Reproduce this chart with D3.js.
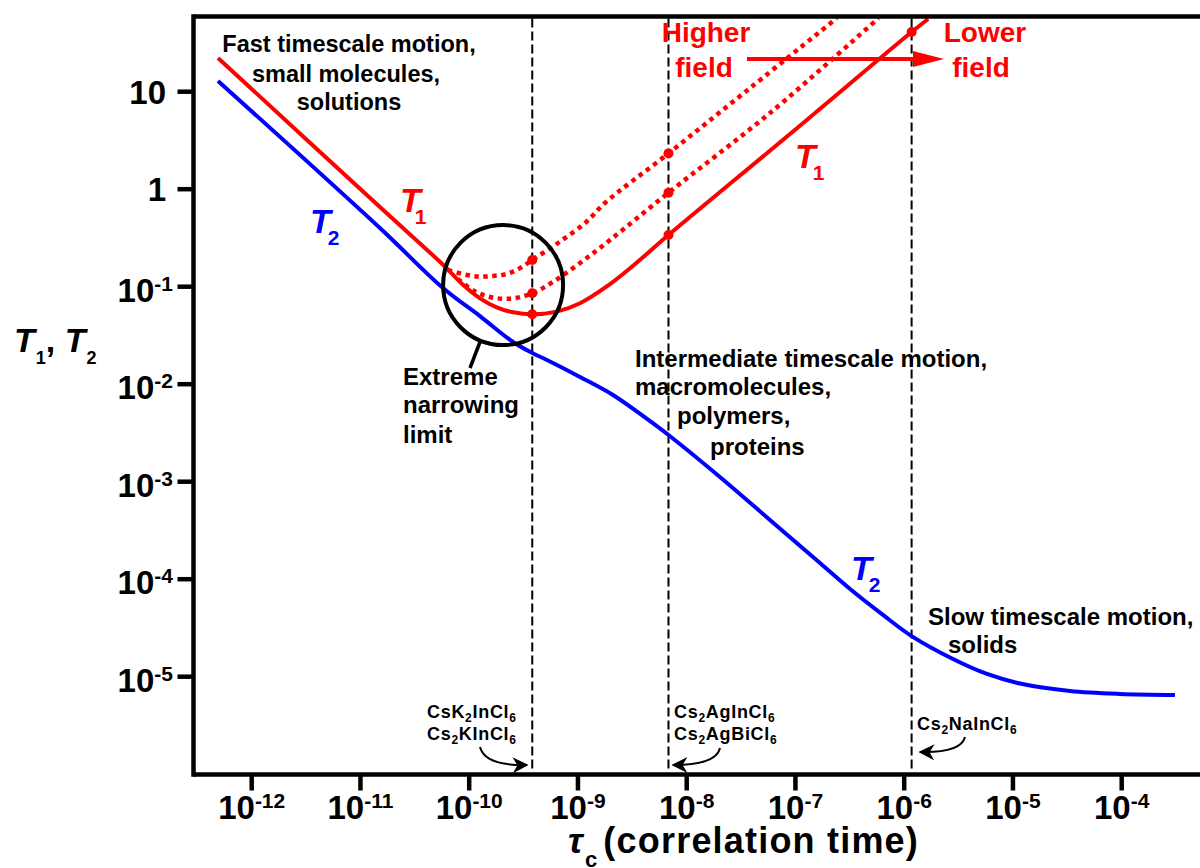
<!DOCTYPE html>
<html>
<head>
<meta charset="utf-8">
<script src="https://cdn.jsdelivr.net/npm/d3@7"></script>
<style>
  html, body { margin: 0; padding: 0; background: #fff; }
  svg { display: block; }
  text { font-family: "Liberation Sans", Arial, Helvetica, sans-serif; font-weight: bold; }
</style>
</head>
<body>
<svg id="chart" width="1200" height="868"></svg>
<script>
// ---- Relaxation curves: correlation time tau_c (s) vs relaxation time (s) ----

// T1, lower field (solid red)
const t1LowTau = [4.90e-13, 1.51e-11, 5.78e-11, 8.83e-11, 1.256e-10, 1.79e-10, 2.54e-10, 3.8e-10,
                  6.38e-10, 1.045e-9, 1.84e-9, 3.23e-9, 6.8e-9, 8.91e-8, 1.17e-6, 1.66e-6];
const t1LowVal = [22.2, 0.656, 0.167, 0.104, 0.0760, 0.0615, 0.0546, 0.0521,
                  0.0555, 0.0676, 0.1005, 0.165, 0.339, 3.68, 40.9, 55.7];

// T1, intermediate field (dotted red)
const t1MidTau = [7.88e-11, 1.09e-10, 1.55e-10, 2.37e-10, 3.8e-10, 5.93e-10, 1.045e-9, 1.97e-9,
                  6.8e-9, 5.83e-8, 5.78e-7];
const t1MidVal = [0.120, 0.0914, 0.0784, 0.0753, 0.0855, 0.1125, 0.175, 0.301,
                  0.920, 6.05, 56.6];

// T1, higher field (dotted red)
const t1HighTau = [6.38e-11, 9.48e-11, 1.256e-10, 1.667e-10, 2.21e-10, 2.93e-10, 3.8e-10, 6.84e-10,
                   1.20e-9, 1.77e-9, 6.8e-9, 3.82e-8, 2.39e-7];
const t1HighVal = [0.148, 0.132, 0.127, 0.129, 0.135, 0.155, 0.188, 0.290,
                   0.464, 0.722, 2.33, 10.9, 56.6];

// T2 (solid blue)
const t2Tau = [4.90e-13, 1.51e-11, 5.74e-11, 1.256e-10, 2.53e-10, 3.8e-10, 5.19e-10, 1.045e-9,
               2.10e-9, 4.32e-9, 6.8e-9, 2.02e-8, 5.83e-8, 1.68e-7, 3.18e-7, 6.38e-7,
               1.17e-6, 2.81e-6, 5.77e-6, 1.16e-5, 3.35e-5, 9.64e-5, 3.09e-4];
const t2Val = [12.9, 0.400, 0.0970, 0.0500, 0.0271, 0.0209, 0.0177, 0.01186,
               0.00775, 0.00440, 0.00301, 0.001117, 4.05e-4, 1.466e-4, 7.93e-5, 4.30e-5,
               2.61e-5, 1.52e-5, 1.067e-5, 8.51e-6, 7.13e-6, 6.65e-6, 6.49e-6];

// correlation times of the marked compounds (dashed guides)
const markerTau = [3.8e-10, 6.8e-9, 1.17e-6];

// axis ticks
const xTickExp = [-12, -11, -10, -9, -8, -7, -6, -5, -4];
const yTickValues = [10, 1, 1e-1, 1e-2, 1e-3, 1e-4, 1e-5];
const yTickBase = ["10", "1", "10", "10", "10", "10", "10"];
const yTickExp = ["", "", "-1", "-2", "-3", "-4", "-5"];

// ---- layout ----
const svg = d3.select("#chart");
const RED = "#ff0000", BLUE = "#0000ff";
const frame = { left: 193.5, top: 16.5, bottom: 774.5, right: 1200 };

const x = d3.scaleLog().domain([1e-12, 1e-4]).range([251.7, 1121.7]);
const y = d3.scaleLog().domain([10, 1e-5]).range([91.7, 676.7]);

const toPts = (taus, vals) => taus.map((t, i) => [t, vals[i]]);
const line = d3.line().x(d => x(d[0])).y(d => y(d[1])).curve(d3.curveCatmullRom.alpha(0.5));

// rich text helper: parts = [[text, "n"|"sub"|"sup", {dx, style, size}], ...]
function rich(parent, px, py, parts, o) {
  const t = parent.append("text").attr("x", px).attr("y", py)
    .attr("font-size", o.size).attr("fill", o.fill || "#000")
    .attr("text-anchor", o.anchor || "start");
  if (o.weight) t.attr("font-weight", o.weight);
  if (o.style) t.attr("font-style", o.style);
  if (o.spacing) t.attr("letter-spacing", o.spacing);
  let shift = 0;
  parts.forEach(([s, kind, extra]) => {
    const e = extra || {};
    const target = kind === "sub" ? o.subShift : kind === "sup" ? -o.supShift : 0;
    const sp = t.append("tspan").attr("dy", target - shift).text(s);
    if (kind !== "n") sp.attr("font-size", o.smallSize);
    if (e.size) sp.attr("font-size", e.size);
    if (e.dx) sp.attr("dx", e.dx);
    if (e.style) sp.attr("font-style", e.style);
    shift = target;
  });
  return t;
}

// ---- dashed guides at the compounds' correlation times ----
svg.append("g").selectAll("line").data(markerTau).join("line")
  .attr("x1", d => x(d)).attr("x2", d => x(d))
  .attr("y1", frame.top + 2).attr("y2", frame.bottom - 2)
  .attr("stroke", "#000").attr("stroke-width", 2).attr("stroke-dasharray", "9,4");

// ---- curves ----
const curves = svg.append("g").attr("fill", "none");
curves.append("path").attr("d", line(toPts(t2Tau, t2Val)))
  .attr("stroke", BLUE).attr("stroke-width", 4);
curves.append("path").attr("d", line(toPts(t1HighTau, t1HighVal)))
  .attr("stroke", RED).attr("stroke-width", 4.5).attr("stroke-dasharray", "4.5,4.5");
curves.append("path").attr("d", line(toPts(t1MidTau, t1MidVal)))
  .attr("stroke", RED).attr("stroke-width", 4.5).attr("stroke-dasharray", "4.5,4.5");
curves.append("path").attr("d", line(toPts(t1LowTau, t1LowVal)))
  .attr("stroke", RED).attr("stroke-width", 4);

// dots where the T1 curves meet the guides
const dotPts = [];
[[t1LowTau, t1LowVal], [t1MidTau, t1MidVal], [t1HighTau, t1HighVal]].forEach(([ts, vs]) => {
  ts.forEach((t, i) => { if (markerTau.includes(t)) dotPts.push([t, vs[i]]); });
});
svg.append("g").selectAll("circle").data(dotPts).join("circle")
  .attr("cx", d => x(d[0])).attr("cy", d => y(d[1])).attr("r", 5).attr("fill", RED);

// ---- extreme narrowing circle ----
const narrowCenter = [2.05e-10, 0.104];
svg.append("circle").attr("cx", x(narrowCenter[0])).attr("cy", y(narrowCenter[1])).attr("r", 60)
  .attr("fill", "none").attr("stroke", "#000").attr("stroke-width", 4);
svg.append("line").attr("x1", 480).attr("y1", 342).attr("x2", 470).attr("y2", 368)
  .attr("stroke", "#000").attr("stroke-width", 3.5);

// ---- frame and axes ----
const axes = svg.append("g").attr("stroke", "#000").attr("stroke-width", 4.5);
axes.append("line").attr("x1", frame.left).attr("x2", frame.left).attr("y1", frame.top - 2.25).attr("y2", frame.bottom + 2.25);
axes.append("line").attr("x1", frame.left).attr("x2", frame.right).attr("y1", frame.top).attr("y2", frame.top);
axes.append("line").attr("x1", frame.left).attr("x2", frame.right).attr("y1", frame.bottom).attr("y2", frame.bottom);

const xTicks = xTickExp.map(e => Math.pow(10, e));
axes.selectAll(".xt").data(xTicks).join("line").attr("class", "xt")
  .attr("x1", d => x(d)).attr("x2", d => x(d)).attr("y1", frame.bottom).attr("y2", frame.bottom + 16);
axes.selectAll(".yt").data(yTickValues).join("line").attr("class", "yt")
  .attr("y1", d => y(d)).attr("y2", d => y(d)).attr("x1", frame.left - 16).attr("x2", frame.left);

const tickOpts = { size: 33, smallSize: 21, subShift: 0, supShift: 11 };
xTicks.forEach((d, i) => {
  rich(svg, x(d), 819, [["10", "n"], [String(xTickExp[i]), "sup"]], Object.assign({ anchor: "middle" }, tickOpts));
});
yTickValues.forEach((d, i) => {
  const hasExp = yTickExp[i] !== "";
  const parts = hasExp ? [[yTickBase[i], "n"], [yTickExp[i], "sup"]] : [[yTickBase[i], "n"]];
  rich(svg, hasExp ? 173 : 166, y(d) + (hasExp ? 15 : 12), parts, Object.assign({ anchor: "end" }, tickOpts));
});

// axis titles
rich(svg, 568, 853, [
  ["\u03c4", "n", { style: "italic" }],
  ["c", "sub", { dx: 1 }],
  ["(correlation time)", "n", { dx: 5 }]
], { size: 36, smallSize: 22, subShift: 14, supShift: 0, spacing: 1.2 });

rich(svg, 14, 352, [
  ["T", "n", { style: "italic" }], ["1", "sub", { dx: 1 }], [",", "n"],
  ["  ", "n"], ["T", "n", { style: "italic" }], ["2", "sub", { dx: 1 }]
], { size: 34, smallSize: 18, subShift: 12, supShift: 0 });

// ---- curve labels ----
function symLabel(px, py, sub, color, subDx) {
  rich(svg, px, py, [["T", "n", { style: "italic" }], [sub, "sub", { dx: subDx }]],
    { size: 34, smallSize: 21, subShift: 12, supShift: 0, fill: color });
}
symLabel(400, 212, "1", RED, -6);
symLabel(310, 233, "2", BLUE, -3);
symLabel(795, 168, "1", RED, -3);
symLabel(851, 580, "2", BLUE, -3);

// ---- region annotations ----
function block(lines, size, color) {
  lines.forEach(([s, px, py, anchor]) => {
    svg.append("text").attr("x", px).attr("y", py).attr("font-size", size)
      .attr("fill", color || "#000").attr("text-anchor", anchor || "start").text(s);
  });
}
block([
  ["Fast timescale motion,", 349, 52, "middle"],
  ["small molecules,", 346, 82, "middle"],
  ["solutions", 349, 110, "middle"]
], 23.5);
block([
  ["Intermediate timescale motion,", 635, 367],
  ["macromolecules,", 635, 395],
  ["polymers,", 677, 424],
  ["proteins", 710, 455]
], 24);
block([
  ["Extreme", 403, 385],
  ["narrowing", 403, 413],
  ["limit", 403, 443]
], 24);
block([
  ["Slow timescale motion,", 928, 625],
  ["solids", 948, 653]
], 24);
block([
  ["Higher", 706, 42, "middle"],
  ["field", 704, 77, "middle"],
  ["Lower", 985, 42, "middle"],
  ["field", 981, 77, "middle"]
], 28, RED);

// field arrow
svg.append("line").attr("x1", 747).attr("y1", 59).attr("x2", 918).attr("y2", 59)
  .attr("stroke", RED).attr("stroke-width", 4);
svg.append("path").attr("d", "M913,51L944,59L913,67Z").attr("fill", RED);

// ---- compound labels ----
const compOpts = { size: 18, smallSize: 12, subShift: 4, supShift: 0, weight: "normal", spacing: 0.7 };
rich(svg, 427, 718, [["CsK", "n"], ["2", "sub"], ["InCl", "n"], ["6", "sub"]], compOpts);
rich(svg, 427, 740, [["Cs", "n"], ["2", "sub"], ["KInCl", "n"], ["6", "sub"]], compOpts);
rich(svg, 674, 718, [["Cs", "n"], ["2", "sub"], ["AgInCl", "n"], ["6", "sub"]], compOpts);
rich(svg, 674, 740, [["Cs", "n"], ["2", "sub"], ["AgBiCl", "n"], ["6", "sub"]], compOpts);
rich(svg, 917, 730, [["Cs", "n"], ["2", "sub"], ["NaInCl", "n"], ["6", "sub"]], compOpts);

// curved pointers to the guides
const defs = svg.append("defs");
defs.append("marker").attr("id", "head").attr("viewBox", "0 0 10 10")
  .attr("refX", 9).attr("refY", 5).attr("markerWidth", 8).attr("markerHeight", 8)
  .attr("markerUnits", "strokeWidth").attr("orient", "auto")
  .append("path").attr("d", "M0,0L10,5L0,10L3,5Z").attr("fill", "#000");
const pointers = [
  "M480,747 Q485,766 527,765",
  "M720,748 Q716,765 673,765",
  "M965,737 Q961,753 920,752"
];
svg.append("g").selectAll("path").data(pointers).join("path")
  .attr("d", d => d).attr("fill", "none").attr("stroke", "#000").attr("stroke-width", 2)
  .attr("marker-end", "url(#head)");
</script>
</body>
</html>
